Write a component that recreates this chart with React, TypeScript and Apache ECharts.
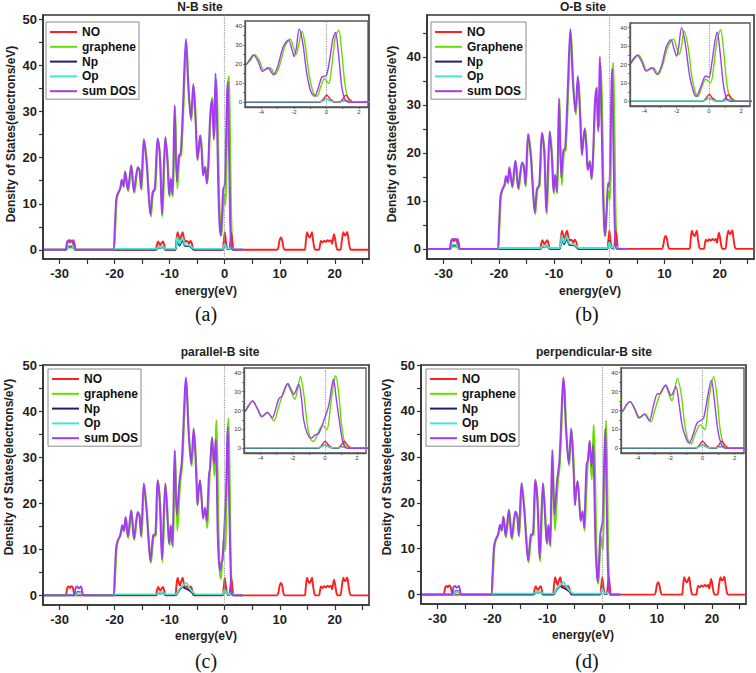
import React, { useEffect, useRef } from "react";
import * as echarts from "echarts";

// ---------------- DATA ----------------
const PANEL_TITLES = ["N-B site", "O-B site", "parallel-B site", "perpendicular-B site"];
const PANEL_CAPTIONS = ["(a)", "(b)", "(c)", "(d)"];
const LEGEND_NAMES_LOWER = ["NO", "graphene", "Np", "Op", "sum DOS"];
const LEGEND_NAMES_UPPER = ["NO", "Graphene", "Np", "Op", "sum DOS"];
const X_AXIS_NAME = "energy(eV)";
const Y_AXIS_NAME = "Density of States(electrons/eV)";

const MAIN_X_LABELS = [-30, -20, -10, 0, 10, 20];
const MAIN_X_TICKS = [-30, -25, -20, -15, -10, -5, 0, 5, 10, 15, 20, 25];
const MAIN_Y_LABELS_50 = [0, 10, 20, 30, 40, 50];
const MAIN_Y_LABELS_40 = [0, 10, 20, 30, 40];
const MAIN_Y_TICKS = [0, 5, 10, 15, 20, 25, 30, 35, 40, 45, 50];
const INSET_X_LABELS = [-4, -2, 0, 2];
const INSET_X_TICKS = [-4, -3, -2, -1, 0, 1, 2];
const INSET_Y_LABELS = [0, 10, 20, 30, 40];
const INSET_Y_TICKS = [0, 5, 10, 15, 20, 25, 30, 35, 40];

// sum DOS, panels (a)/(b), below -5 eV
const SUM_AB_LOW = [
  [-33, 0], [-28.9, 0], [-28.7, 1.2], [-28.5, 2.0], [-28.1, 2.1], [-27.8, 1.8], [-27.5, 2.1], [-27.2, 1.0], [-27.0, 0],
  [-20.3, 0], [-20.0, 4], [-19.7, 11], [-19.4, 12.3], [-19.0, 13.3], [-18.7, 15.2], [-18.4, 13.8], [-18.1, 17.0],
  [-17.6, 13.0], [-17.0, 18.4], [-16.5, 12.6], [-15.8, 18.0], [-15.5, 17.3], [-15.2, 13.3], [-14.7, 24.0],
  [-14.2, 19.1], [-13.9, 13.3], [-13.5, 7.6], [-13.1, 12.5], [-12.7, 13.3], [-12.2, 24.2], [-11.8, 20.6],
  [-11.4, 7.6], [-10.8, 24.5], [-10.4, 19.1], [-10.1, 11.9], [-9.8, 15.5], [-9.5, 11.9], [-9.1, 31.4],
  [-8.7, 14.8], [-8.3, 20.6], [-8.0, 20.9], [-7.6, 30.7], [-7.05, 45.8], [-6.6, 35], [-6.15, 28.5],
  [-5.7, 36], [-5.3, 28],
];
const GRA_AB_LOW = [
  [-33, 0], [-28.9, 0], [-28.6, 0.3], [-28.3, 0.5], [-27.6, 0.5], [-27.3, 0.2], [-27.0, 0],
  [-20.2, 0], [-19.9, 4], [-19.6, 11], [-19.3, 12.3], [-18.9, 13.3], [-18.6, 15.0], [-18.3, 13.6], [-18.0, 16.8],
  [-17.5, 12.7], [-16.9, 18.2], [-16.4, 12.3], [-15.7, 17.8], [-15.4, 17.1], [-15.1, 13.0], [-14.6, 23.8],
  [-14.1, 18.8], [-13.8, 13.0], [-13.4, 7.2], [-13.0, 12.3], [-12.6, 13.1], [-12.1, 24.0], [-11.7, 20.2],
  [-11.3, 7.2], [-10.7, 24.3], [-10.3, 18.8], [-10.0, 11.5], [-9.7, 15.2], [-9.4, 11.5], [-9.0, 31.0],
  [-8.6, 13.3], [-8.2, 20.2], [-7.9, 20.5], [-7.5, 30.3], [-6.95, 45.2], [-6.5, 34.5], [-6.05, 28],
  [-5.6, 35.5], [-5.2, 27.5],
];
// -5 .. 1.6 eV (the inset range), per panel
const SUM_A_MID = [
  [-4.95, 19.5], [-4.7, 22.5], [-4.48, 24.8], [-4.2, 21.5], [-3.92, 16.1], [-3.6, 18.0], [-3.25, 14.4],
  [-3.0, 18.5], [-2.65, 29], [-2.33, 32.6], [-2.1, 27], [-1.98, 23.9], [-1.85, 28], [-1.67, 38.3],
  [-1.45, 31], [-1.2, 15], [-0.95, 5.5], [-0.72, 3.1], [-0.5, 7.5], [-0.27, 13.2], [0, 14.0], [0.2, 22],
  [0.4, 33], [0.56, 36.5], [0.75, 25], [0.95, 8], [1.15, 1.5], [1.4, 0], [1.6, 0],
];
const GRA_A_MID = [
  [-4.95, 19.8], [-4.7, 21.5], [-4.39, 24.9], [-4.1, 21.5], [-3.85, 16.8], [-3.46, 18.0], [-3.15, 14.5],
  [-2.9, 18.5], [-2.55, 29], [-2.22, 33.1], [-2.0, 28], [-1.85, 25], [-1.7, 30], [-1.5, 37], [-1.3, 30],
  [-1.05, 14], [-0.8, 5], [-0.58, 3.1], [-0.35, 8], [-0.12, 12.3], [0.14, 9.7], [0.35, 20], [0.55, 34],
  [0.76, 37.7], [0.95, 26], [1.15, 9], [1.38, 1], [1.6, 0],
];
const SUM_B_MID = [
  [-4.95, 19.5], [-4.7, 23], [-4.45, 25], [-4.15, 21], [-3.9, 16.4], [-3.55, 18.2], [-3.22, 14.6],
  [-2.95, 19], [-2.65, 29.5], [-2.36, 33.4], [-2.15, 28], [-2.0, 24.5], [-1.87, 30], [-1.7, 40],
  [-1.48, 32], [-1.2, 14], [-0.95, 5], [-0.78, 2.7], [-0.5, 8], [-0.2, 13.8], [0, 12.9], [0.2, 22],
  [0.38, 33], [0.51, 37.5], [0.7, 26], [0.9, 9], [1.1, 1.5], [1.35, 0], [1.6, 0],
];
const GRA_B_MID = [
  [-4.95, 19.8], [-4.7, 22], [-4.37, 25.2], [-4.1, 21.5], [-3.85, 16.8], [-3.45, 18.3], [-3.15, 14.6],
  [-2.9, 19], [-2.55, 29.5], [-2.2, 33.7], [-2.0, 29], [-1.85, 25.4], [-1.7, 30], [-1.54, 38.2], [-1.3, 30],
  [-1.05, 13], [-0.85, 5], [-0.68, 2.7], [-0.45, 7.5], [-0.2, 12], [0.1, 10.2], [0.3, 19], [0.5, 33],
  [0.72, 38.8], [0.92, 27], [1.12, 9], [1.35, 1], [1.6, 0],
];

// panels (c)/(d), below -5 eV
const SUM_CD_LOW = [
  [-33, 0], [-27.4, 0], [-27.1, 1.5], [-26.8, 1.9], [-26.5, 1.5], [-26.1, 1.9], [-25.8, 0.3], [-25.6, 0],
  [-20.3, 0], [-20.0, 4], [-19.7, 10.5], [-19.4, 12.0], [-19.0, 13.0], [-18.6, 15.2], [-18.35, 14], [-18.0, 17.0],
  [-17.6, 12.7], [-17.0, 18.5], [-16.5, 12.3], [-15.8, 18.1], [-15.5, 17.3], [-15.2, 12.9], [-14.7, 24.3],
  [-14.2, 18.5], [-13.9, 13.0], [-13.5, 7.4], [-13.0, 13.0], [-12.6, 13.3], [-12.2, 25.0], [-11.8, 20.3],
  [-11.4, 7.8], [-10.8, 24.3], [-10.3, 14.5], [-10.1, 11.2], [-9.8, 15.2], [-9.5, 10.8], [-9.1, 31.5],
  [-8.7, 17.4], [-8.2, 25], [-7.8, 29], [-7.03, 47.3], [-6.6, 36.2], [-6.1, 28.5], [-5.65, 36.2],
  [-5.2, 26.8],
];
const GRA_CD_LOW = [
  [-33, 0], [-27.2, 0], [-26.9, 0.3], [-26.6, 0.6], [-26.1, 0.6], [-25.8, 0.1], [-25.6, 0],
  [-20.2, 0], [-19.9, 4], [-19.6, 10.5], [-19.3, 12.0], [-18.9, 13.0], [-18.5, 15.0], [-18.25, 13.8], [-17.9, 16.8],
  [-17.5, 12.4], [-16.9, 18.3], [-16.4, 12.0], [-15.7, 17.9], [-15.4, 17.1], [-15.1, 12.6], [-14.6, 24.1],
  [-14.1, 18.2], [-13.8, 12.7], [-13.4, 7.0], [-12.9, 12.7], [-12.5, 13.0], [-12.1, 24.8], [-11.7, 20.0],
  [-11.3, 7.2], [-10.7, 24.1], [-10.2, 14.2], [-10.0, 10.9], [-9.7, 15.0], [-9.4, 10.4], [-9.0, 31.3],
  [-8.6, 14.0], [-8.1, 24], [-7.7, 28.5], [-6.95, 46.5], [-6.5, 35.5], [-6.0, 28], [-5.55, 35.8],
  [-5.1, 26.5],
];
const SUM_C_MID = [
  [-4.95, 19.6], [-4.75, 22.5], [-4.5, 25], [-4.2, 21], [-3.93, 16.6], [-3.58, 19.1], [-3.27, 16.1],
  [-3.05, 21], [-2.86, 26.3], [-2.65, 27.7], [-2.3, 34.3], [-2.1, 31], [-1.93, 28.6], [-1.63, 33.9],
  [-1.45, 26], [-1.32, 15.2], [-1.1, 8], [-0.84, 5.4], [-0.6, 7.1], [-0.39, 7.7], [-0.08, 14.3],
  [0.23, 22.3], [0.4, 31], [0.53, 36.6], [0.7, 27], [0.95, 11.6], [1.1, 4], [1.26, 0.5], [1.5, 0],
];
const GRA_C_MID = [
  [-4.95, 19.6], [-4.75, 22.5], [-4.5, 25], [-4.2, 21], [-3.88, 17], [-3.55, 18.6], [-3.17, 14.6],
  [-2.9, 21], [-2.65, 28], [-2.35, 34], [-2.1, 30], [-1.87, 25.9], [-1.7, 31], [-1.52, 38], [-1.3, 28],
  [-1.1, 13], [-0.9, 5], [-0.7, 3.6], [-0.5, 6.5], [-0.29, 10.7], [-0.14, 12], [0.12, 9.8], [0.35, 22],
  [0.55, 35], [0.68, 38.4], [0.85, 30], [1.05, 12], [1.26, 1.8], [1.5, 0],
];
const SUM_D_MID = [
  [-4.95, 19.5], [-4.7, 23], [-4.48, 24.7], [-4.2, 21], [-3.92, 16], [-3.6, 18.1], [-3.28, 14.6],
  [-3.05, 22], [-2.82, 28.6], [-2.6, 29.1], [-2.26, 33.5], [-2.1, 30.5], [-1.93, 27.9], [-1.64, 32.6],
  [-1.45, 24], [-1.25, 12], [-1.0, 5], [-0.81, 2.8], [-0.55, 8], [-0.33, 13.3], [-0.12, 14.6], [0.08, 16],
  [0.3, 26], [0.56, 36.1], [0.75, 25], [0.95, 10], [1.15, 2.5], [1.33, 0.5], [1.5, 0],
];
const GRA_D_MID = [
  [-4.95, 19.5], [-4.7, 23], [-4.48, 24.7], [-4.2, 21], [-3.85, 16.3], [-3.54, 18.2], [-3.2, 13.9],
  [-2.95, 20], [-2.65, 28], [-2.3, 33.2], [-2.05, 28], [-1.89, 25.1], [-1.72, 31], [-1.54, 37], [-1.3, 28],
  [-1.1, 13], [-0.9, 4.5], [-0.7, 2.3], [-0.45, 7.5], [-0.12, 12.5], [0.15, 9.8], [0.4, 26], [0.7, 37.9],
  [0.9, 28], [1.1, 10], [1.33, 1.5], [1.5, 0],
];
const ZERO_TAIL = [[3.3, 0]];

const NO_ALL = [
  [-33, 0], [-28.9, 0], [-28.75, 0.6], [-28.55, 1.7], [-28.35, 1.9], [-28.1, 1.6], [-27.85, 2.0], [-27.6, 1.7],
  [-27.4, 0.6], [-27.2, 0],
  [-12.6, 0], [-12.35, 0.9], [-12.1, 1.8], [-11.85, 1.2], [-11.7, 1.0], [-11.45, 1.5], [-11.2, 1.8], [-10.95, 0.8], [-10.7, 0],
  [-9.0, 0], [-8.8, 1.8], [-8.55, 3.8], [-8.3, 2.6], [-8.1, 2.1], [-7.9, 3.0], [-7.65, 3.8], [-7.4, 2.4], [-7.2, 1.7],
  [-6.95, 1.9], [-6.75, 1.8], [-6.5, 1.3], [-6.25, 1.9], [-6.0, 1.5], [-5.8, 0.4], [-5.6, 0],
  [-0.45, 0], [-0.2, 1.5], [0.02, 3.8], [0.25, 1.5], [0.55, 0.1], [0.8, 0.1], [1.0, 1.5], [1.2, 3.7], [1.42, 1.5], [1.7, 0],
  [9.5, 0], [9.75, 0.6], [9.95, 2.0], [10.2, 2.7], [10.45, 2.0], [10.65, 0.6], [10.9, 0],
  [14.5, 0], [14.7, 1.5], [14.95, 3.8], [15.2, 3.0], [15.45, 2.7], [15.65, 3.2], [15.85, 3.8], [16.05, 2.0], [16.3, 0.3], [16.5, 0],
  [17.1, 0], [17.3, 1.0], [17.5, 1.9], [17.8, 1.6], [18.1, 2.0], [18.4, 1.7], [18.7, 2.1], [19.0, 1.8], [19.3, 2.1],
  [19.5, 1.3], [19.7, 2.6], [19.85, 3.4], [20.05, 2.4], [20.25, 0.8], [20.5, 0],
  [21.0, 0], [21.25, 1.8], [21.55, 3.8], [21.75, 3.2], [21.9, 3.1], [22.1, 3.5], [22.25, 3.9], [22.5, 2.0], [22.75, 0.3],
  [23.0, 0], [26.2, 0],
];
const NP_AB = [
  [-33, 0], [-28.8, 0], [-28.4, 0.7], [-27.7, 0.7], [-27.3, 0], [-12.4, 0], [-12.0, 0.6], [-11.7, 0.3],
  [-11.3, 0.6], [-10.8, 0], [-9.0, 0], [-8.6, 2.0], [-8.2, 0.9], [-7.7, 2.0], [-7.2, 0.8], [-6.3, 0.7],
  [-5.5, 0], [-0.4, 0], [0.0, 1.7], [0.4, 0.2], [0.85, 0.1], [1.15, 0.9], [1.5, 0], [3.3, 0],
];
const OP_AB = [
  [-33, 0], [-28.8, 0], [-28.4, 0.9], [-27.7, 0.9], [-27.3, 0], [-20.3, 0], [-20.0, 0.2], [-12.4, 0.2],
  [-12.0, 0.8], [-11.7, 0.4], [-11.3, 0.8], [-10.8, 0.2], [-9.0, 0.2], [-8.6, 2.8], [-8.2, 1.3], [-7.7, 2.6],
  [-7.2, 1.1], [-6.3, 0.9], [-5.5, 0.2], [-0.4, 0.2], [0.0, 1.4], [0.4, 0.3], [0.85, 0.2], [1.15, 0.7],
  [1.5, 0.1], [3.3, 0],
];
const NP_CD = [
  [-33, 0], [-27.1, 0], [-26.7, 0.8], [-26.1, 0.8], [-25.7, 0], [-12.4, 0], [-12.0, 0.6], [-11.7, 0.3],
  [-11.3, 0.6], [-10.8, 0], [-8.8, 0], [-8.3, 1.0], [-7.6, 1.8], [-7.2, 1.5], [-6.6, 1.2], [-5.8, 0.4],
  [-5.2, 0], [-0.4, 0], [0.0, 1.7], [0.4, 0.2], [0.85, 0.1], [1.15, 0.9], [1.5, 0], [3.3, 0],
];
const OP_CD = [
  [-33, 0], [-27.1, 0], [-26.7, 0.6], [-26.1, 0.7], [-25.7, 0], [-20.3, 0], [-20.0, 0.2], [-12.4, 0.2],
  [-12.0, 0.7], [-11.7, 0.4], [-11.3, 0.7], [-10.8, 0.2], [-8.8, 0.2], [-8.3, 1.3], [-7.6, 2.1], [-7.0, 2.7],
  [-6.5, 1.7], [-5.8, 0.7], [-5.2, 0.2], [-0.4, 0.2], [0.0, 1.4], [0.4, 0.3], [0.85, 0.2], [1.15, 0.7],
  [1.5, 0.1], [3.3, 0],
];

// ---------------- LAYOUT / STYLE ----------------
const FONT = 'Arial, "Liberation Sans", Helvetica, sans-serif';
const COLORS = { NO: "#ff1f1f", gra: "#66dd00", Np: "#1b1f78", Op: "#44e6c8", sum: "#a23cf0" };

const PANELS = [
  {
    main: { left: 43, top: 15, width: 326, height: 244 }, yMin: -2, yMax: 51, yLabels: MAIN_Y_LABELS_50,
    inset: { left: 245, top: 21, width: 123, height: 86 }, insetXMin: -5, insetXMax: 2.56,
    legend: { left: 46, top: 22 }, names: LEGEND_NAMES_LOWER,
    sum: [...SUM_AB_LOW, ...SUM_A_MID, ...ZERO_TAIL], gra: [...GRA_AB_LOW, ...GRA_A_MID, ...ZERO_TAIL], np: NP_AB, op: OP_AB,
    title: { x: 200, y: 7 }, xName: { x: 206, y: 291 }, yName: { x: 11, y: 134 }, cap: { x: 206, y: 314 },
  },
  {
    main: { left: 427, top: 15, width: 327, height: 244 }, yMin: -2.1, yMax: 48.7, yLabels: MAIN_Y_LABELS_40,
    inset: { left: 630, top: 23, width: 120, height: 83 }, insetXMin: -4.9, insetXMax: 2.55,
    legend: { left: 431, top: 22 }, names: LEGEND_NAMES_UPPER,
    sum: [...SUM_AB_LOW, ...SUM_B_MID, ...ZERO_TAIL], gra: [...GRA_AB_LOW, ...GRA_B_MID, ...ZERO_TAIL], np: NP_AB, op: OP_AB,
    title: { x: 583, y: 7 }, xName: { x: 590, y: 291 }, yName: { x: 392, y: 134 }, cap: { x: 587, y: 314 },
  },
  {
    main: { left: 43, top: 365, width: 326, height: 240 }, yMin: -2.1, yMax: 50, yLabels: MAIN_Y_LABELS_50,
    inset: { left: 244, top: 368, width: 122, height: 85 }, insetXMin: -5.03, insetXMax: 2.56,
    legend: { left: 48, top: 369 }, names: LEGEND_NAMES_LOWER,
    sum: [...SUM_CD_LOW, ...SUM_C_MID, ...ZERO_TAIL], gra: [...GRA_CD_LOW, ...GRA_C_MID, ...ZERO_TAIL], np: NP_CD, op: OP_CD,
    title: { x: 220, y: 352 }, xName: { x: 206, y: 636 }, yName: { x: 9, y: 467 }, cap: { x: 206, y: 661 },
  },
  {
    main: { left: 421, top: 365, width: 325, height: 239 }, yMin: -2.05, yMax: 50, yLabels: MAIN_Y_LABELS_50,
    inset: { left: 621, top: 368, width: 123, height: 85 }, insetXMin: -5.04, insetXMax: 2.58,
    legend: { left: 426, top: 369 }, names: LEGEND_NAMES_LOWER,
    sum: [...SUM_CD_LOW, ...SUM_D_MID, ...ZERO_TAIL], gra: [...GRA_CD_LOW, ...GRA_D_MID, ...ZERO_TAIL], np: NP_CD, op: OP_CD,
    title: { x: 594, y: 352 }, xName: { x: 583, y: 635 }, yName: { x: 387, y: 467 }, cap: { x: 587, y: 661 },
  },
];

function buildOption() {
  const grid: any[] = [];
  const xAxis: any[] = [];
  const yAxis: any[] = [];
  const series: any[] = [];
  const legend: any[] = [];
  const graphic: any[] = [];

  PANELS.forEach((p, i) => {
    const gm = 2 * i;
    const gi = 2 * i + 1;
    grid.push({ ...p.main, show: true, borderColor: "#333", borderWidth: 1.6, backgroundColor: "#fff", containLabel: false, outerBoundsMode: "none", z: 1 });
    grid.push({ ...p.inset, show: true, borderColor: "#555", borderWidth: 1.3, backgroundColor: "#fff", containLabel: false, outerBoundsMode: "none", z: 5 });

    xAxis.push({
      gridIndex: gm, type: "value", min: -33, max: 26.2, z: 3,
      axisLine: { show: true, onZero: false, lineStyle: { color: "#333", width: 1.6 } },
      axisTick: { show: true, customValues: MAIN_X_TICKS, length: 5, lineStyle: { color: "#333", width: 1.2 } },
      axisLabel: { customValues: MAIN_X_LABELS, margin: 8, fontSize: 13, fontWeight: "bold", color: "#222", fontFamily: FONT },
      splitLine: { show: false },
    });
    yAxis.push({
      gridIndex: gm, type: "value", min: p.yMin, max: p.yMax, z: 3,
      axisLine: { show: true, onZero: false, lineStyle: { color: "#333", width: 1.6 } },
      axisTick: { show: true, customValues: MAIN_Y_TICKS.filter((v) => v <= p.yMax), length: 4, lineStyle: { color: "#333", width: 1.2 } },
      axisLabel: { customValues: p.yLabels, margin: 6, fontSize: 13, fontWeight: "bold", color: "#222", fontFamily: FONT },
      splitLine: { show: false },
    });
    xAxis.push({
      gridIndex: gi, type: "value", min: p.insetXMin, max: p.insetXMax, z: 8,
      axisLine: { show: true, onZero: false, lineStyle: { color: "#555", width: 1.3 } },
      axisTick: { show: true, customValues: INSET_X_TICKS, length: 2, lineStyle: { color: "#555", width: 0.8 } },
      axisLabel: { customValues: INSET_X_LABELS, margin: 2, fontSize: 6, color: "#333", fontFamily: FONT },
      splitLine: { show: false },
    });
    yAxis.push({
      gridIndex: gi, type: "value", min: -2.5, max: 42.5, z: 8,
      axisLine: { show: true, onZero: false, lineStyle: { color: "#555", width: 1.3 } },
      axisTick: { show: true, customValues: INSET_Y_TICKS, length: 2, lineStyle: { color: "#555", width: 0.8 } },
      axisLabel: { customValues: INSET_Y_LABELS, margin: 3, fontSize: 6, color: "#333", fontFamily: FONT },
      splitLine: { show: false },
    });

    const graName = p.names[1];
    const mk = (name: string, data: any, color: string, xi: number, width: number, z: number, zeroLine = false) => {
      const s: any = {
        type: "line", name, data, xAxisIndex: xi, yAxisIndex: xi, showSymbol: false, symbol: "none",
        smooth: 0.3, clip: true, z,
        lineStyle: { color, width }, itemStyle: { color }, silent: true,
      };
      if (zeroLine) {
        s.markLine = {
          silent: true, symbol: "none", label: { show: false },
          lineStyle: { type: "dotted", color: "#9a9a9a", width: 1.2 },
          data: [{ xAxis: 0 }],
        };
      }
      return s;
    };
    [gm, gi].forEach((ax) => {
      const w = ax === gm ? 1.9 : 1.4;
      const zb = ax === gm ? 2 : 6;
      series.push(mk(graName, p.gra, COLORS.gra, ax, w, zb, true));
      series.push(mk("NO", NO_ALL, COLORS.NO, ax, w, zb));
      series.push(mk("Np", p.np, COLORS.Np, ax, w * 0.8, zb));
      series.push(mk("Op", p.op, COLORS.Op, ax, w, zb));
      series.push(mk("sum DOS", p.sum, COLORS.sum, ax, w, zb));
    });

    legend.push({
      left: p.legend.left, top: p.legend.top, orient: "vertical", data: p.names,
      icon: "rect", itemWidth: 27, itemHeight: 2, itemGap: 2.8, padding: [4, 3, 2, 4],
      borderColor: "#8a8a8a", borderWidth: 1, backgroundColor: "#fff", selectedMode: false, z: 10,
      textStyle: { fontSize: 12, fontWeight: "bold", color: "#111", fontFamily: FONT },
    });

    const boldText = (text: string, x: number, y: number, size: number, rot = 0) => ({
      type: "text", x, y, rotation: rot, z: 20,
      style: {
        text, fill: "#222", font: `bold ${size}px ${FONT}`,
        align: "center", verticalAlign: "middle", textAlign: "center", textVerticalAlign: "middle",
      },
    });
    graphic.push(boldText(PANEL_TITLES[i], p.title.x, p.title.y, 12));
    graphic.push(boldText(X_AXIS_NAME, p.xName.x, p.xName.y, 12));
    graphic.push(boldText(Y_AXIS_NAME, p.yName.x, p.yName.y, 12, Math.PI / 2));
    graphic.push({
      type: "text", x: p.cap.x, y: p.cap.y, z: 20,
      style: {
        text: PANEL_CAPTIONS[i], fill: "#111", font: `20px "Times New Roman", "Liberation Serif", serif`,
        align: "center", verticalAlign: "middle", textAlign: "center", textVerticalAlign: "middle",
      },
    });
  });

  return {
    animation: false,
    backgroundColor: "#fff",
    grid, xAxis, yAxis, series, legend, graphic,
  };
}

export default function App() {
  const ref = useRef<HTMLDivElement>(null);
  useEffect(() => {
    if (!ref.current) return;
    const chart = echarts.init(ref.current, undefined, { renderer: "svg" });
    chart.setOption(buildOption() as any);
    return () => chart.dispose();
  }, []);
  return (
    <div
      ref={ref}
      style={{ position: "fixed", left: 0, top: 0, width: 756, height: 673, background: "#fff" }}
    />
  );
}
